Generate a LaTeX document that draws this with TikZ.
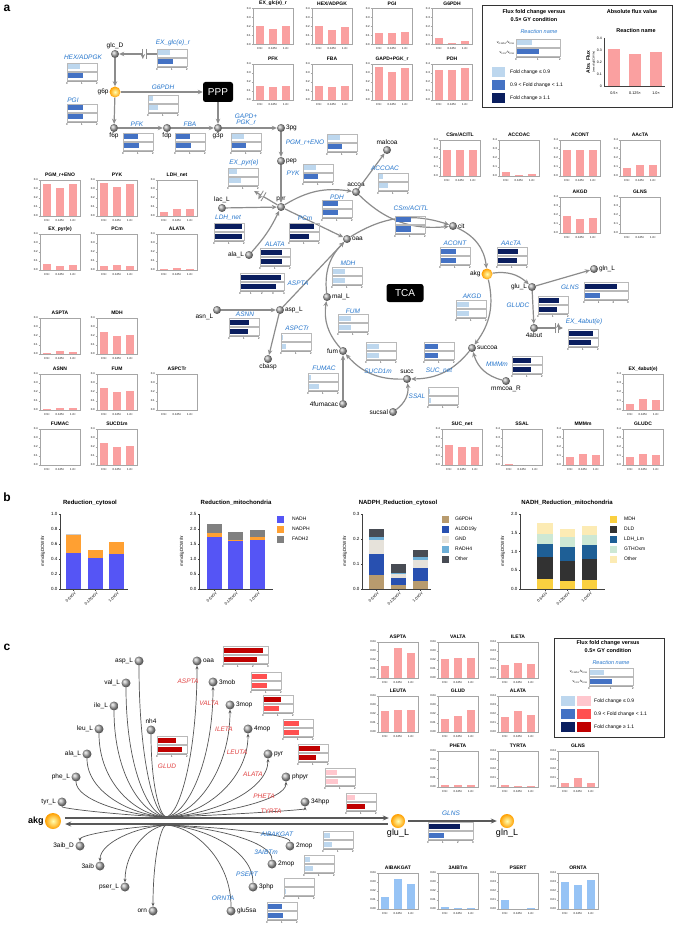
\documentclass[tikz,border=0pt]{standalone}
\usepackage{fontspec}
\setmainfont{Liberation Sans}
\usetikzlibrary{arrows.meta,calc,decorations.markings}
\definecolor{pinkbar}{RGB}{250,160,160}
\definecolor{bluebar}{RGB}{150,195,245}
\definecolor{fcL}{RGB}{189,215,238}
\definecolor{fcM}{RGB}{68,114,196}
\definecolor{fcD}{RGB}{10,30,95}
\definecolor{frL}{RGB}{255,199,206}
\definecolor{frM}{RGB}{255,80,80}
\definecolor{frD}{RGB}{192,0,0}
\definecolor{rxblue}{RGB}{38,118,204}
\definecolor{rxred}{RGB}{225,65,65}
\definecolor{flowgray}{RGB}{140,140,140}
\definecolor{fangray}{RGB}{85,85,85}
\definecolor{cNADH}{RGB}{85,85,245}
\definecolor{cNADPH}{RGB}{255,160,50}
\definecolor{cFAD}{RGB}{128,128,128}
\definecolor{cGsix}{RGB}{184,155,110}
\definecolor{cALDD}{RGB}{40,80,176}
\definecolor{cGND}{RGB}{230,226,218}
\definecolor{cRADH}{RGB}{110,175,215}
\definecolor{cOth}{RGB}{72,76,84}
\definecolor{cMDH}{RGB}{250,208,64}
\definecolor{cDLD}{RGB}{50,50,50}
\definecolor{cLDH}{RGB}{30,95,150}
\definecolor{cGTH}{RGB}{205,232,212}
\definecolor{cOthB}{RGB}{252,235,180}
\tikzset{
 met/.style={circle, shading=ball, ball color=gray!65, minimum size=8pt, inner sep=0pt},
 metO/.style={circle, inner color=yellow!30, outer color=orange!75!yellow, minimum size=11pt, inner sep=0pt},
 ml/.style={font=\fontsize{6.5}{7}\selectfont, inner sep=0.6pt},
 mlc/.style={font=\fontsize{6.5}{7}\selectfont, inner sep=1.2pt},
 rx/.style={font=\fontsize{6.5}{7}\selectfont\itshape, text=rxblue, inner sep=0pt},
 rxr/.style={font=\fontsize{6.5}{7}\selectfont\itshape, text=rxred, inner sep=0pt},
 ttl/.style={font=\fontsize{5}{6}\selectfont\bfseries, inner sep=0pt},
 lgt/.style={font=\fontsize{5.5}{6}\selectfont\bfseries, inner sep=0pt},
 lgs/.style={font=\fontsize{5}{6}\selectfont, inner sep=0pt, anchor=west},
 tk/.style={font=\fontsize{2.8}{3}\selectfont, inner sep=0pt},
 btk/.style={font=\fontsize{4.5}{5}\selectfont, inner sep=0.5pt},
 bxl/.style={font=\fontsize{3.9}{4}\selectfont, inner sep=0pt},
 bttl/.style={font=\fontsize{6}{7}\selectfont\bfseries, inner sep=0pt},
 baxis/.style={draw=black!75, line width=0.5pt},
 chartframe/.style={draw=gray!70, line width=0.5pt},
 boxgray/.style={draw=gray!55, line width=0.5pt},
 flow/.style={draw=flowgray, line width=1.2pt, -{Stealth[length=5pt,width=4.5pt]}},
 fan/.style={draw=fangray, line width=0.7pt, -{Stealth[length=3.5pt,width=3pt]}},
 fanline/.style={draw=fangray, line width=0.7pt},
 thickline/.style={draw=black!65, line width=1.6pt, -{Stealth[length=6pt,width=5pt]}},
 blackbox/.style={fill=black, text=white, rounded corners=2.5pt, font=\fontsize{10}{10}\selectfont, inner sep=0pt},
 letter/.style={font=\fontsize{12}{12}\selectfont\bfseries, inner sep=0pt},
 brk/.style={postaction={decorate,decoration={markings, mark=at position #1 with {\fill[white] (-1.6pt,-4pt) rectangle (1.6pt,4pt); \draw[flowgray,line width=.8pt] (-1.6pt,-5pt)--(-1.6pt,5pt) (1.6pt,-5pt)--(1.6pt,5pt);}}}},
}
% small bar chart: cx, ytop, title, v1, v2, v3, ymax, colour, tick labels
\newcommand\mychart[9]{%
 \node[ttl] at (#1,#2) {#3};
 \fill[#8] ({#1-17},{#2+41}) rectangle ({#1-9},{#2+41-#4/#7*36});
 \fill[#8] ({#1-4},{#2+41}) rectangle ({#1+4},{#2+41-#5/#7*36});
 \fill[#8] ({#1+9},{#2+41}) rectangle ({#1+17},{#2+41-#6/#7*36});
 \draw[chartframe] ({#1-20},{#2+5}) rectangle ({#1+20},{#2+41});
 \foreach \t [count=\i from 0] in {#9} {\draw[chartframe] ({#1-21.5},{#2+41-\i*9}) -- ({#1-20},{#2+41-\i*9});
   \node[tk, anchor=east] at ({#1-22},{#2+41-\i*9}) {\t};}
 \node[tk] at ({#1-13},{#2+45.5}) {0.5×};
 \node[tk] at (#1,{#2+45.5}) {0.125×};
 \node[tk] at ({#1+13},{#2+45.5}) {1.0×};
}
\newcommand\chA[7]{\mychart{#1}{#2}{#3}{#4}{#5}{#6}{0.4}{#7}{0.0,0.1,0.2,0.3,0.4}}
\newcommand\chC[7]{\mychart{#1}{#2}{#3}{#4}{#5}{#6}{0.04}{#7}{0.00,0.01,0.02,0.03,0.04}}
% fold change box: x, y, width, max, v1, c1, v2, c2
\newcommand\fcb[8]{%
 \draw[boxgray] (#1,#2) rectangle ++(#3,8);
 \draw[boxgray] (#1,{#2+9}) rectangle ++(#3,8);
 \fill[#6] ({#1+0.6},{#2+1.5}) rectangle ++({#5*#3/#4},5);
 \fill[#8] ({#1+0.6},{#2+10.5}) rectangle ++({#7*#3/#4},5);
 \draw[gray!70, line width=0.3pt] (#1,{#2+18}) -- ++(#3,0);
 \foreach \i in {0,...,#4} {\node[tk] at ({#1+\i*#3/#4},{#2+21}) {\i};}
}
\newcommand\subc[3]{\draw[fanline] (#1) .. controls (#2,{#3+0.65*(812-#3)}) and ({#2+0.55*(166-#2)},815) .. (CU);}
\newcommand\proc[3]{\draw[fan] (CU) .. controls ({166+0.45*(#2-166)},815) and (#2,{#3+0.6*(815-#3)}) .. (#1);}
\newcommand\lproc[3]{\draw[fan] (CL) .. controls ({166+0.45*(#2-166)},827) and (#2,{#3-0.6*(#3-827)}) .. (#1);}
\newcommand\lsubc[3]{\draw[fanline] (#1) .. controls (#2,{#3-0.6*(#3-827)}) and ({166+0.45*(#2-166)},827) .. (CL);}
\begin{document}
\begin{tikzpicture}[x=1pt,y=-1pt]
\useasboundingbox (0,0) rectangle (676,925);
\fill[white] (0,0) rectangle (676,925);
% ================= PANEL A =================
\node[letter] (la) at (7,8) {a};
% charts top
\chA{273}{3.5}{EX\_glc(e)\_r}{0.21}{0.17}{0.21}{pinkbar}
\chA{332}{3.5}{HEX/ADPGK}{0.20}{0.16}{0.19}{pinkbar}
\chA{392}{3.5}{PGI}{0.13}{0.13}{0.14}{pinkbar}
\chA{452}{3.5}{G6PDH}{0.07}{0.02}{0.04}{pinkbar}
\chA{273}{59}{PFK}{0.15}{0.14}{0.15}{pinkbar}
\chA{332}{59}{FBA}{0.15}{0.14}{0.15}{pinkbar}
\chA{392}{59}{GAPD+PGK\_r}{0.37}{0.31}{0.35}{pinkbar}
\chA{452}{59}{PDH}{0.33}{0.33}{0.35}{pinkbar}
\chA{460}{135}{CSm/ACITL}{0.29}{0.29}{0.29}{pinkbar}
\chA{519}{135}{ACCOAC}{0.04}{0.01}{0.02}{pinkbar}
\chA{580}{135}{ACONT}{0.29}{0.29}{0.29}{pinkbar}
\chA{640}{135}{AAcTA}{0.09}{0.12}{0.12}{pinkbar}
\chA{580}{192}{AKGD}{0.19}{0.16}{0.17}{pinkbar}
\chA{640}{192}{GLNS}{0.0}{0.005}{0.0}{pinkbar}
\chA{60}{175}{PGM\_r+ENO}{0.36}{0.31}{0.35}{pinkbar}
\chA{117}{175}{PYK}{0.37}{0.32}{0.36}{pinkbar}
\chA{177}{175}{LDH\_net}{0.04}{0.08}{0.08}{pinkbar}
\chA{60}{229}{EX\_pyr(e)}{0.07}{0.04}{0.06}{pinkbar}
\chA{117}{229}{PCm}{0.04}{0.06}{0.05}{pinkbar}
\chA{177}{229}{ALATA}{0.01}{0.02}{0.01}{pinkbar}
\chA{60}{313}{ASPTA}{0.01}{0.03}{0.02}{pinkbar}
\chA{117}{313}{MDH}{0.25}{0.20}{0.21}{pinkbar}
\chA{60}{369}{ASNN}{0.01}{0.02}{0.02}{pinkbar}
\chA{117}{369}{FUM}{0.25}{0.20}{0.21}{pinkbar}
\chA{177}{369}{ASPCTr}{0.005}{0.0}{0.0}{pinkbar}
\chA{60}{424}{FUMAC}{0.0}{0.0}{0.0}{pinkbar}
\chA{117}{424}{SUCD1m}{0.24}{0.20}{0.21}{pinkbar}
\chA{643}{369}{EX\_4abut(e)}{0.07}{0.12}{0.11}{pinkbar}
\chA{462}{424}{SUC\_net}{0.22}{0.20}{0.20}{pinkbar}
\chA{522}{424}{SSAL}{0.01}{0.0}{0.0}{pinkbar}
\chA{583}{424}{MMMm}{0.09}{0.12}{0.11}{pinkbar}
\chA{643}{424}{GLUDC}{0.09}{0.12}{0.11}{pinkbar}
% legend a
\draw[line width=0.8pt, black!80] (482,5) rectangle (672,107);
\node[lgt] (lga1) at (534,12) {Flux fold change versus};
\node[lgt] (lga2) at (534,20) {0.5× GY condition};
\node[lgt] (lga3) at (632,12) {Absolute flux value};
\node[rx, font=\fontsize{5.5}{6}\selectfont\itshape] (lga4) at (539,32) {Reaction name};
\fcb{516}{39}{44}{2}{0.7}{fcL}{1.0}{fcM}
\node[tk, font=\fontsize{3.5}{4}\selectfont, anchor=east] (lga5) at (515,43) {v\textsubscript{0.125×}/v\textsubscript{0.5×}};
\node[tk, font=\fontsize{3.5}{4}\selectfont, anchor=east] (lga6) at (515,53) {v\textsubscript{1.0×}/v\textsubscript{0.5×}};
\fill[fcL] (492,67) rectangle (505,77);
\fill[fcM] (492,80) rectangle (505,90);
\fill[fcD] (492,93) rectangle (505,103);
\node[lgs] (lga7) at (510,72) {Fold change ≤ 0.9};
\node[lgs] (lga8) at (510,85) {0.9 < Fold change < 1.1};
\node[lgs] (lga9) at (510,98) {Fold change ≥ 1.1};
\node[lgt] (lga10) at (636,31) {Reaction name};
\fill[pinkbar] (608,86) rectangle (620,{86-0.31/0.4*48});
\fill[pinkbar] (629,86) rectangle (641,{86-0.27/0.4*48});
\fill[pinkbar] (650,86) rectangle (662,{86-0.28/0.4*48});
\draw[baxis, line width=0.4pt] (604,38) -- (604,86) -- (665,86);
\foreach \t [count=\i from 0] in {0,0.1,0.2,0.3,0.4} {\node[tk, font=\fontsize{3.5}{4}\selectfont, anchor=east] at (602,{86-\i*12}) {\t};}
\node[tk, font=\fontsize{3.8}{4}\selectfont] at (614,93) {0.5×};
\node[tk, font=\fontsize{3.8}{4}\selectfont] at (635,93) {0.125×};
\node[tk, font=\fontsize{3.8}{4}\selectfont] at (656,93) {1.0×};
\node[ttl, rotate=90] (lga11) at (588,62) {Abs. Flux};
\node[tk, rotate=90] (lga12) at (594,62) {(mmol/gDCW/hr)};
% metabolites
\node[met, label={[ml]above:glc\_D}] (glc) at (115,54) {};
\node[metO, label={[ml]left:g6p}] (g6p) at (115,92) {};
\node[met, label={[ml]below:f6p}] (f6p) at (114,128) {};
\node[met, label={[ml]below:fdp}] (fdp) at (167,128) {};
\node[met, label={[ml]below:g3p}] (g3p) at (218,128) {};
\node[blackbox, minimum width=30pt, minimum height=20pt] (ppp) at (218,92) {PPP};
\node[met, label={[ml]right:3pg}] (p3g) at (281,128) {};
\node[met, label={[ml]right:pep}] (pep) at (281,161) {};
\node[met, label={[ml]above:pyr}] (pyr) at (281,207) {};
\node[met, label={[ml]above:lac\_L}] (lac) at (222,208) {};
\node[met, label={[ml]left:ala\_L}] (ala) at (249,255) {};
\node[met, label={[ml]right:oaa}] (oaa) at (347,239) {};
\node[met, label={[ml]above:accoa}] (accoa) at (356,192) {};
\node[met, label={[ml]above:malcoa}] (malcoa) at (387,150) {};
\node[met, label={[ml]right:cit}] (cit) at (453,226) {};
\node[met, label={[ml]right:mal\_L}] (malL) at (327,297) {};
\node[met, label={[ml]below left:asn\_L}] (asn) at (217,310) {};
\node[met, label={[ml]right:asp\_L}] (asp) at (280,310) {};
\node[met, label={[ml]below:cbasp}] (cbasp) at (268,359) {};
\node[met, label={[ml]left:fum}] (fum) at (343,351) {};
\node[met, label={[ml]left:4fumacac}] (fumac) at (343,404) {};
\node[met, label={[ml]above:succ}] (succ) at (407,379) {};
\node[met, label={[ml]left:sucsal}] (sucsal) at (393,412) {};
\node[met, label={[ml]right:succoa}] (succoa) at (472,348) {};
\node[metO, label={[ml]left:akg}] (akg) at (487,274) {};
\node[met, label={[ml]left:glu\_L}] (glu) at (532,287) {};
\node[met, label={[ml]right:gln\_L}] (gln) at (594,269) {};
\node[met, label={[ml]below:4abut}] (abut) at (534,328) {};
\node[met, label={[ml]below:mmcoa\_R}] (mmcoa) at (506,381) {};
\node[blackbox, minimum width=37pt, minimum height=18pt] (tca) at (405,293) {TCA};
\coordinate (glcex) at (158,54);
\coordinate (pyrex) at (254,191);
\coordinate (abutex) at (563,328);
% edges
\draw[flow, brk=0.35] (glcex) -- (glc);
\draw[flow] (glc) -- (g6p);
\draw[flow] (g6p) -- (ppp);
\draw[flow] (ppp) -- (g3p);
\draw[flow] (g6p) -- (f6p);
\draw[flow] (f6p) -- (fdp);
\draw[flow] (fdp) -- (g3p);
\draw[flow] (g3p) -- (p3g);
\draw[flow] (p3g) -- (pep);
\draw[flow] (pep) -- (pyr);
\draw[flow] (lac) -- (pyr);
\draw[flow, brk=0.65] (pyr) -- (pyrex);
\draw[flow] (pyr) to[bend left=20] (accoa);
\draw[flow] (pyr) -- (oaa);
\draw[flow] (ala) to[bend right=8] (pyr);
\draw[flow] (asp) -- (oaa);
\draw[flow] (asn) -- (asp);
\draw[flow] (asp) -- (cbasp);
\draw[flow] (accoa) -- (malcoa);
\draw[flow] (accoa) to[bend right=25] (cit);
\draw[flow] (oaa) to[bend left=25] (cit);
\draw[flow] (cit) to[bend left=30] (akg);
\draw[flow] (akg) to[bend left=25] (succoa);
\draw[flow] (succoa) to[bend left=25] (succ);
\draw[flow] (succ) to[bend left=25] (fum);
\draw[flow] (fum) to[bend left=25] (malL);
\draw[flow] (malL) to[bend left=25] (oaa);
\draw[flow] (fumac) -- (fum);
\draw[flow] (sucsal) to[bend right=30] (succ);
\draw[flow] (mmcoa) to[bend left=30] (succoa);
\draw[flow] (akg) to[bend left=25] (glu);
\draw[flow] (glu) -- (gln);
\draw[flow] (glu) -- (abut);
\draw[flow, brk=0.75] (abut) -- (abutex);
% reaction labels and fold boxes
\node[rx] (r1) at (173,43) {EX\_glc(e)\_r}; \fcb{157}{49}{30}{2}{0.8}{fcL}{1.0}{fcM}
\node[rx] (r2) at (83,57) {HEX/ADPGK}; \fcb{67}{63}{30}{2}{0.8}{fcL}{1.0}{fcM}
\node[rx] (r3) at (163,87) {G6PDH}; \fcb{148}{95}{30}{2}{0.3}{fcL}{0.6}{fcL}
\node[rx] (r4) at (73,100) {PGI}; \fcb{67}{104}{30}{2}{1.0}{fcM}{1.05}{fcM}
\node[rx] (r5) at (137,124) {PFK}; \fcb{123}{133}{30}{2}{0.95}{fcM}{1.0}{fcM}
\node[rx] (r6) at (190,124) {FBA}; \fcb{175}{133}{30}{2}{0.95}{fcM}{1.0}{fcM}
\node[rx, align=center] (r7) at (246,120) {GAPD+\\[-1pt]PGK\_r}; \fcb{231}{133}{30}{2}{0.85}{fcL}{0.95}{fcM}
\node[rx] (r8) at (305,143) {PGM\_r+ENO}; \fcb{327}{134}{30}{2}{0.85}{fcL}{0.97}{fcM}
\node[rx] (r9) at (244,163) {EX\_pyr(e)}; \fcb{228}{168}{30}{2}{0.55}{fcL}{0.8}{fcL}
\node[rx] (r10) at (293,173) {PYK}; \fcb{303}{164}{30}{2}{0.85}{fcL}{0.97}{fcM}
\node[rx] (r11) at (228,218) {LDH\_net}; \fcb{214}{223}{30}{2}{1.8}{fcD}{1.85}{fcD}
\node[rx] (r12) at (337,197) {PDH}; \fcb{322}{200}{30}{2}{1.0}{fcM}{1.05}{fcM}
\node[rx] (r13) at (305,218) {PCm}; \fcb{289}{223}{30}{2}{1.65}{fcD}{1.3}{fcD}
\node[rx] (r14) at (385,168) {ACCOAC}; \fcb{378}{173}{30}{2}{0.3}{fcL}{0.6}{fcL}
\node[rx] (r15) at (411,208) {CSm/ACITL}; \fcb{395}{216}{30}{2}{1.0}{fcM}{1.0}{fcM}
\node[rx] (r16) at (275,244) {ALATA}; \fcb{260}{248}{30}{2}{1.4}{fcD}{1.4}{fcD}
\node[rx] (r17) at (298,283) {ASPTA}; \fcb{240}{273}{44}{4}{3.7}{fcD}{3.2}{fcD}
\node[rx] (r18) at (348,263) {MDH}; \fcb{332}{267}{30}{2}{0.8}{fcL}{0.85}{fcL}
\node[rx] (r19) at (455,243) {ACONT}; \fcb{440}{247}{30}{2}{1.0}{fcM}{1.0}{fcM}
\node[rx] (r20) at (245,314) {ASNN}; \fcb{229}{318}{30}{2}{1.3}{fcD}{1.25}{fcD}
\node[rx] (r21) at (297,328) {ASPCTr}; \fcb{281}{333}{30}{2}{0.05}{fcL}{0.3}{fcL}
\node[rx] (r22) at (353,311) {FUM}; \fcb{338}{314}{30}{2}{0.8}{fcL}{0.85}{fcL}
\node[rx] (r23) at (324,368) {FUMAC}; \fcb{308}{373}{30}{2}{0.15}{fcL}{0.7}{fcL}
\node[rx] (r24) at (378,371) {SUCD1m}; \fcb{366}{342}{30}{2}{0.85}{fcL}{0.85}{fcL}
\node[rx] (r25) at (439,371) {SUC\_net}; \fcb{424}{342}{30}{2}{0.9}{fcM}{0.9}{fcM}
\node[rx] (r26) at (417,396) {SSAL}; \fcb{428}{387}{30}{2}{0.1}{fcL}{0.15}{fcL}
\node[rx] (r27) at (472,296) {AKGD}; \fcb{456}{300}{30}{2}{0.8}{fcL}{0.85}{fcL}
\node[rx] (r28) at (511,243) {AAcTA}; \fcb{497}{247}{30}{2}{1.35}{fcD}{1.3}{fcD}
\node[rx] (r29) at (570,287) {GLNS}; \fcb{584}{282}{44}{3}{2.2}{fcD}{1.05}{fcM}
\node[rx] (r30) at (518,305) {GLUDC}; \fcb{538}{296}{30}{2}{1.35}{fcD}{1.25}{fcD}
\node[rx] (r31) at (584,322) {EX\_4abut(e)}; \fcb{568}{329}{30}{2}{1.6}{fcD}{1.5}{fcD}
\node[rx] (r32) at (497,364) {MMMm}; \fcb{512}{356}{30}{2}{1.2}{fcD}{1.2}{fcD}
% ================= PANEL B =================
\node[letter] (lb) at (7,497) {b};
\node[bttl] (bt1) at (90,503) {Reduction\_cytosol};
\node[bttl] (bt2) at (236,503) {Reduction\_mitochondria};
\node[bttl] (bt3) at (398,503) {NADPH\_Reduction\_cytosol};
\node[bttl] (bt4) at (567,503) {NADH\_Reduction\_mitochondria};
\foreach \xx in {43,182,345,503} {\node[btk, rotate=90] at (\xx,551) {mmol/gDCW/hr};}
% chart 1
\begin{scope}[shift={(60,589)}, y=75pt]
 \fill[cNADH] (6,0) rectangle (21,0.48); \fill[cNADPH] (6,0.48) rectangle (21,0.725); \fill[gray!40] (6,0.725) rectangle (21,0.735);
 \fill[cNADH] (28,0) rectangle (43,0.42); \fill[cNADPH] (28,0.42) rectangle (43,0.52);
 \fill[cNADH] (49,0) rectangle (64,0.47); \fill[cNADPH] (49,0.47) rectangle (64,0.63);
 \draw[baxis] (0,1) -- (0,0) -- (68,0);
 \foreach \v in {0.0,0.2,0.4,0.6,0.8,1.0} {\draw[baxis] (0,\v) -- ++(-1.5pt,0pt); \node[btk,anchor=east] at ([xshift=-2pt]0,\v) {\v};}
 \foreach \xx/\t in {13.5/0.5xGY,35.5/0.125xGY,56.5/1.0xGY} {\draw[baxis] (\xx,0) -- ++(0pt,-1.5pt); \node[bxl, rotate=45, anchor=north east] at ([yshift=-2pt,xshift=1pt]\xx,0) {\t};}
\end{scope}
% chart 2
\begin{scope}[shift={(199,589)}, y=30pt]
 \fill[cNADH] (8,0) rectangle (23,1.75); \fill[cNADPH] (8,1.75) rectangle (23,1.87); \fill[cFAD] (8,1.87) rectangle (23,2.17);
 \fill[cNADH] (29,0) rectangle (44,1.60); \fill[cNADPH] (29,1.60) rectangle (44,1.65); \fill[cFAD] (29,1.65) rectangle (44,1.90);
 \fill[cNADH] (51,0) rectangle (66,1.65); \fill[cNADPH] (51,1.65) rectangle (66,1.73); \fill[cFAD] (51,1.73) rectangle (66,1.98);
 \draw[baxis] (0,2.5) -- (0,0) -- (74,0);
 \foreach \v in {0.0,0.5,1.0,1.5,2.0,2.5} {\draw[baxis] (0,\v) -- ++(-1.5pt,0pt); \node[btk,anchor=east] at ([xshift=-2pt]0,\v) {\v};}
 \foreach \xx/\t in {15.5/0.5xGY,36.5/0.125xGY,58.5/1.0xGY} {\draw[baxis] (\xx,0) -- ++(0pt,-1.5pt); \node[bxl, rotate=45, anchor=north east] at ([yshift=-2pt,xshift=1pt]\xx,0) {\t};}
\end{scope}
\fill[cNADH] (277,516) rectangle (284,523); \node[lgs] (b2l1) at (292,519) {NADH};
\fill[cNADPH] (277,526) rectangle (284,533); \node[lgs] (b2l2) at (292,529) {NADPH};
\fill[cFAD] (277,536) rectangle (284,543); \node[lgs] (b2l3) at (292,539) {FADH2};
% chart 3
\begin{scope}[shift={(362,589)}, y=250pt]
 \fill[cGsix] (7,0) rectangle (22,0.055); \fill[cALDD] (7,0.055) rectangle (22,0.14); \fill[cGND] (7,0.14) rectangle (22,0.195); \fill[cRADH] (7,0.195) rectangle (22,0.21); \fill[cOth] (7,0.21) rectangle (22,0.24);
 \fill[cGsix] (29,0) rectangle (44,0.015); \fill[cALDD] (29,0.015) rectangle (44,0.045); \fill[cGND] (29,0.045) rectangle (44,0.06); \fill[cRADH] (29,0.06) rectangle (44,0.066); \fill[cOth] (29,0.066) rectangle (44,0.10);
 \fill[cGsix] (51,0) rectangle (66,0.033); \fill[cALDD] (51,0.033) rectangle (66,0.083); \fill[cGND] (51,0.083) rectangle (66,0.116); \fill[cRADH] (51,0.116) rectangle (66,0.128); \fill[cOth] (51,0.128) rectangle (66,0.155);
 \draw[baxis] (0,0.3) -- (0,0) -- (69,0);
 \foreach \v in {0.0,0.1,0.2,0.3} {\draw[baxis] (0,\v) -- ++(-1.5pt,0pt); \node[btk,anchor=east] at ([xshift=-2pt]0,\v) {\v};}
 \foreach \xx/\t in {14.5/0.5xGY,36.5/0.125xGY,58.5/1.0xGY} {\draw[baxis] (\xx,0) -- ++(0pt,-1.5pt); \node[bxl, rotate=45, anchor=north east] at ([yshift=-2pt,xshift=1pt]\xx,0) {\t};}
\end{scope}
\fill[cGsix] (442,516) rectangle (449,523); \node[lgs] (b3l1) at (455,519) {G6PDH};
\fill[cALDD] (442,526) rectangle (449,533); \node[lgs] (b3l2) at (455,529) {ALDD19y};
\fill[cGND] (442,536) rectangle (449,543); \node[lgs] (b3l3) at (455,539) {GND};
\fill[cRADH] (442,546) rectangle (449,553); \node[lgs] (b3l4) at (455,549) {RADH4};
\fill[cOth] (442,556) rectangle (449,563); \node[lgs] (b3l5) at (455,559) {Other};
% chart 4
\begin{scope}[shift={(520,589)}, y=37.5pt]
 \fill[cMDH] (17,0) rectangle (33,0.27); \fill[cDLD] (17,0.27) rectangle (33,0.85); \fill[cLDH] (17,0.85) rectangle (33,1.21); \fill[cGTH] (17,1.21) rectangle (33,1.46); \fill[cOthB] (17,1.46) rectangle (33,1.76);
 \fill[cMDH] (40,0) rectangle (55,0.21); \fill[cDLD] (40,0.21) rectangle (55,0.75); \fill[cLDH] (40,0.75) rectangle (55,1.11); \fill[cGTH] (40,1.11) rectangle (55,1.40); \fill[cOthB] (40,1.40) rectangle (55,1.61);
 \fill[cMDH] (62,0) rectangle (77,0.23); \fill[cDLD] (62,0.23) rectangle (77,0.80); \fill[cLDH] (62,0.80) rectangle (77,1.18); \fill[cGTH] (62,1.18) rectangle (77,1.45); \fill[cOthB] (62,1.45) rectangle (77,1.67);
 \draw[baxis] (0,2.0) -- (0,0) -- (85,0);
 \foreach \v in {0.0,0.5,1.0,1.5,2.0} {\draw[baxis] (0,\v) -- ++(-1.5pt,0pt); \node[btk,anchor=east] at ([xshift=-2pt]0,\v) {\v};}
 \foreach \xx/\t in {25/0.5xGY,47.5/0.125xGY,69.5/1.0xGY} {\draw[baxis] (\xx,0) -- ++(0pt,-1.5pt); \node[bxl, rotate=45, anchor=north east] at ([yshift=-2pt,xshift=1pt]\xx,0) {\t};}
\end{scope}
\fill[cMDH] (610,516) rectangle (617,523); \node[lgs] (b4l1) at (624,519) {MDH};
\fill[cDLD] (610,526) rectangle (617,533); \node[lgs] (b4l2) at (624,529) {DLD};
\fill[cLDH] (610,536) rectangle (617,543); \node[lgs] (b4l3) at (624,539) {LDH\_Lm};
\fill[cGTH] (610,546) rectangle (617,553); \node[lgs] (b4l4) at (624,549) {GTHOxm};
\fill[cOthB] (610,556) rectangle (617,563); \node[lgs] (b4l5) at (624,559) {Other};
% ================= PANEL C =================
\node[letter] (lc) at (7,647) {c};
\chC{398}{637}{ASPTA}{0.013}{0.033}{0.028}{pinkbar}
\chC{458}{637}{VALTA}{0.021}{0.022}{0.022}{pinkbar}
\chC{518}{637}{ILETA}{0.015}{0.017}{0.016}{pinkbar}
\chC{398}{691}{LEUTA}{0.023}{0.025}{0.024}{pinkbar}
\chC{458}{691}{GLUD}{0.015}{0.018}{0.025}{pinkbar}
\chC{518}{691}{ALATA}{0.017}{0.023}{0.019}{pinkbar}
\chC{458}{746}{PHETA}{0.002}{0.002}{0.002}{pinkbar}
\chC{518}{746}{TYRTA}{0.002}{0.001}{0.001}{pinkbar}
\chC{578}{746}{GLNS}{0.004}{0.010}{0.005}{pinkbar}
\chC{398}{868}{AIBAKGAT}{0.013}{0.033}{0.028}{bluebar}
\chC{458}{868}{3AIBTm}{0.002}{0.001}{0.001}{bluebar}
\chC{518}{868}{PSERT}{0.010}{0.0}{0.001}{bluebar}
\chC{578}{868}{ORNTA}{0.030}{0.027}{0.032}{bluebar}
% legend c
\draw[line width=0.8pt, black!80] (554,638) rectangle (664,737);
\node[lgt] (lgc1) at (608,643) {Flux fold change versus};
\node[lgt] (lgc2) at (608,651) {0.5× GY condition};
\node[rx, font=\fontsize{5.5}{6}\selectfont\itshape] (lgc3) at (611,663) {Reaction name};
\fcb{589}{668}{44}{2}{0.65}{fcL}{1.0}{fcM}
\node[tk, font=\fontsize{3.5}{4}\selectfont, anchor=east] (lgc4) at (588,672) {v\textsubscript{0.125×}/v\textsubscript{0.5×}};
\node[tk, font=\fontsize{3.5}{4}\selectfont, anchor=east] (lgc5) at (588,682) {v\textsubscript{1.0×}/v\textsubscript{0.5×}};
\fill[fcL] (561,696) rectangle (575,706); \fill[frL] (577,696) rectangle (591,706);
\fill[fcM] (561,709) rectangle (575,719); \fill[frM] (577,709) rectangle (591,719);
\fill[fcD] (561,722) rectangle (575,732); \fill[frD] (577,722) rectangle (591,732);
\node[lgs] (lgc6) at (594,701) {Fold change ≤ 0.9};
\node[lgs] (lgc7) at (594,714) {0.9 < Fold change < 1.1};
\node[lgs] (lgc8) at (594,727) {Fold change ≥ 1.1};
% metabolites c
\node[metO, minimum size=16pt, label={[font=\fontsize{9}{9}\selectfont\bfseries, inner sep=1pt]left:akg}] (akgc) at (53,821) {};
\node[metO, minimum size=14pt, label={[font=\fontsize{9}{9}\selectfont, inner sep=1pt]below:glu\_L}] (gluc) at (398,821) {};
\node[metO, minimum size=14pt, label={[font=\fontsize{9}{9}\selectfont, inner sep=1pt]below:gln\_L}] (glnc) at (507,821) {};
\node[met, minimum size=9pt, label={[mlc]left:asp\_L}] (aspc) at (139,661) {};
\node[met, minimum size=9pt, label={[mlc]left:val\_L}] (valc) at (126,683) {};
\node[met, minimum size=9pt, label={[mlc]left:ile\_L}] (ilec) at (114,706) {};
\node[met, minimum size=9pt, label={[mlc]left:leu\_L}] (leuc) at (99,729) {};
\node[met, minimum size=9pt, label={[mlc]above:nh4}] (nhc) at (151,730) {};
\node[met, minimum size=9pt, label={[mlc]left:ala\_L}] (alac) at (87,754) {};
\node[met, minimum size=9pt, label={[mlc]left:phe\_L}] (phec) at (76,777) {};
\node[met, minimum size=9pt, label={[mlc]left:tyr\_L}] (tyrc) at (62,802) {};
\node[met, minimum size=9pt, label={[mlc]right:oaa}] (oaac) at (197,661) {};
\node[met, minimum size=9pt, label={[mlc]right:3mob}] (mobc) at (213,682) {};
\node[met, minimum size=9pt, label={[mlc]right:3mop}] (mopc) at (230,705) {};
\node[met, minimum size=9pt, label={[mlc]right:4mop}] (fmopc) at (248,729) {};
\node[met, minimum size=9pt, label={[mlc]right:pyr}] (pyrc) at (268,754) {};
\node[met, minimum size=9pt, label={[mlc]right:phpyr}] (phpyrc) at (286,777) {};
\node[met, minimum size=9pt, label={[mlc]right:34hpp}] (hppc) at (305,802) {};
\node[met, minimum size=9pt, label={[mlc]left:3aib\_D}] (aibdc) at (80,846) {};
\node[met, minimum size=9pt, label={[mlc]left:3aib}] (aibc) at (100,866) {};
\node[met, minimum size=9pt, label={[mlc]left:pser\_L}] (pserc) at (125,887) {};
\node[met, minimum size=9pt, label={[mlc]left:orn}] (ornc) at (153,911) {};
\node[met, minimum size=9pt, label={[mlc]right:2mop}] (mopa) at (290,846) {};
\node[met, minimum size=9pt, label={[mlc]right:2mop}] (mopb) at (272,864) {};
\node[met, minimum size=9pt, label={[mlc]right:3php}] (phpc) at (253,887) {};
\node[met, minimum size=9pt, label={[mlc]right:glu5sa}] (gsac) at (231,911) {};
\coordinate (CU) at (166,817);
\coordinate (CL) at (166,825);
% fan
\subc{aspc}{139}{661} \subc{valc}{126}{683} \subc{ilec}{114}{706} \subc{leuc}{99}{729}
\subc{nhc}{151}{730} \subc{alac}{87}{754} \subc{phec}{76}{777} \subc{tyrc}{62}{802}
\proc{oaac}{197}{661} \proc{mobc}{213}{682} \proc{mopc}{230}{705} \proc{fmopc}{248}{729}
\proc{pyrc}{268}{754} \proc{phpyrc}{286}{777} \proc{hppc}{305}{802}
\lproc{aibdc}{80}{846} \lproc{aibc}{100}{866} \lproc{pserc}{125}{887} \lproc{ornc}{153}{911}
\lsubc{mopa}{290}{846} \lsubc{mopb}{272}{864} \lsubc{phpc}{253}{887} \lsubc{gsac}{231}{911}
\draw[thickline] ([yshift=3pt,xshift=4pt]akgc.east) -- ([yshift=3pt,xshift=-2pt]gluc.west);
\draw[thickline] ([yshift=-3pt,xshift=-3pt]gluc.west) -- ([yshift=-3pt,xshift=4pt]akgc.east);
\draw[thickline] ([xshift=3pt]gluc.east) -- ([xshift=-3pt]glnc.west);
% reaction labels c
\node[rxr] (c1) at (188,681) {ASPTA}; \fcb{223}{646}{45}{3}{2.6}{frD}{2.2}{frD}
\node[rxr] (c2) at (209,703) {VALTA}; \fcb{251}{672}{30}{2}{1.0}{frM}{1.0}{frM}
\node[rxr] (c3) at (224,729) {ILETA}; \fcb{263}{695}{30}{2}{1.15}{frD}{1.05}{frM}
\node[rxr] (c4) at (237,752) {LEUTA}; \fcb{283}{719}{30}{2}{1.05}{frM}{1.05}{frM}
\node[rxr] (c5) at (253,774) {ALATA}; \fcb{298}{744}{30}{2}{1.4}{frD}{1.15}{frD}
\node[rxr] (c6) at (264,796) {PHETA}; \fcb{325}{768}{30}{2}{0.73}{frL}{0.8}{frL}
\node[rxr] (c7) at (271,811) {TYRTA}; \fcb{346}{793}{30}{2}{0.55}{frL}{1.25}{frD}
\node[rxr] (c8) at (167,766) {GLUD}; \fcb{157}{736}{30}{2}{1.2}{frD}{1.6}{frD}
\node[rx] (c9) at (277,834) {AIBAKGAT}; \fcb{323}{831}{30}{2}{0.45}{fcL}{0.55}{fcL}
\node[rx] (c10) at (266,852) {3AIBTm}; \fcb{304}{855}{30}{2}{0.35}{fcL}{0.55}{fcL}
\node[rx] (c11) at (247,874) {PSERT}; \fcb{284}{878}{30}{2}{0.0}{fcL}{0.05}{fcL}
\node[rx] (c12) at (223,898) {ORNTA}; \fcb{267}{902}{30}{2}{0.95}{fcM}{1.05}{fcM}
\node[rx] (c13) at (451,813) {GLNS}; \fcb{428}{822}{45}{3}{2.1}{fcD}{1.05}{fcM}
\end{tikzpicture}
\end{document}
